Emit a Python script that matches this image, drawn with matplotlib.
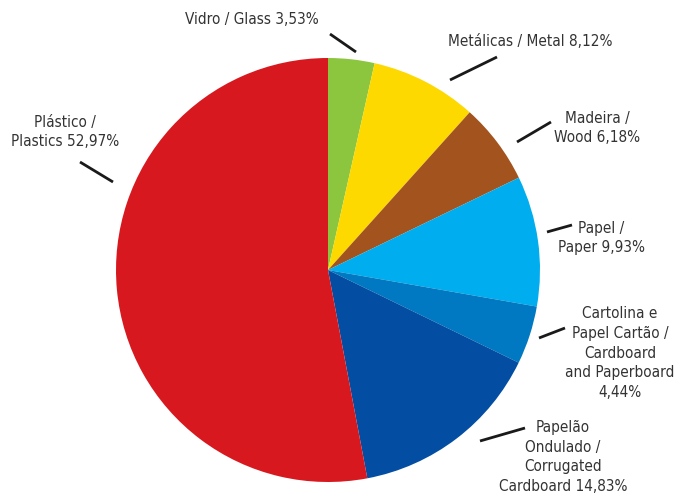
import matplotlib
matplotlib.use("Agg")
import matplotlib.pyplot as plt
from matplotlib import font_manager

# share of packaging waste by material (%), clockwise from the top
labels = [
    "Vidro / Glass 3,53%",
    "Metálicas / Metal 8,12%",
    "Madeira /\nWood 6,18%",
    "Papel /\nPaper 9,93%",
    "Cartolina e\nPapel Cartão /\nCardboard\nand Paperboard\n4,44%",
    "Papelão\nOndulado /\nCorrugated\nCardboard 14,83%",
    "Plástico /\nPlastics 52,97%",
]
values = [3.53, 8.12, 6.18, 9.93, 4.44, 14.83, 52.97]
colors = ["#8cc63f", "#fdd900", "#a3531e", "#00aeef", "#0079c2", "#034ea2", "#d7191f"]

# label anchor (x, y) in pixels and leader line ((x0, y0), (x1, y1))
label_pos = [(252, 20), (530, 42), (597, 128), (601, 238), (620, 353), (563, 457), (65, 132)]
leaders = [
    ((330, 34), (356, 52)),
    ((450, 80), (497, 57)),
    ((517, 142), (551, 122)),
    ((547, 232), (572, 225)),
    ((539, 338), (565, 328)),
    ((480, 441), (525, 428)),
    ((80, 162), (113, 182)),
]

names = {f.name for f in font_manager.fontManager.ttflist}
if "Liberation Sans Narrow" in names:
    font = dict(family="Liberation Sans Narrow")
else:
    font = dict(family="DejaVu Sans", stretch="condensed")

fig = plt.figure(figsize=(6.79, 4.96), dpi=100)
ax = fig.add_axes([0, 0, 1, 1])

# y axis runs downward, so a counter-clockwise pie in data space
# appears clockwise on the page
ax.pie(values, colors=colors, center=(328, 270), radius=212, startangle=-90,
       counterclock=True, wedgeprops=dict(linewidth=0), frame=True)
ax.set_xlim(0, 679)
ax.set_ylim(496, 0)
ax.set_aspect("equal")
ax.axis("off")

for text, (x, y), (p0, p1) in zip(labels, label_pos, leaders):
    ax.text(x, y, text, ha="center", va="center", fontsize=11, color="#333333",
            linespacing=1.38, **font)
    ax.plot([p0[0], p1[0]], [p0[1], p1[1]], color="#1a1a1a", lw=2, solid_capstyle="butt")

fig.savefig("out.png", dpi=100)
